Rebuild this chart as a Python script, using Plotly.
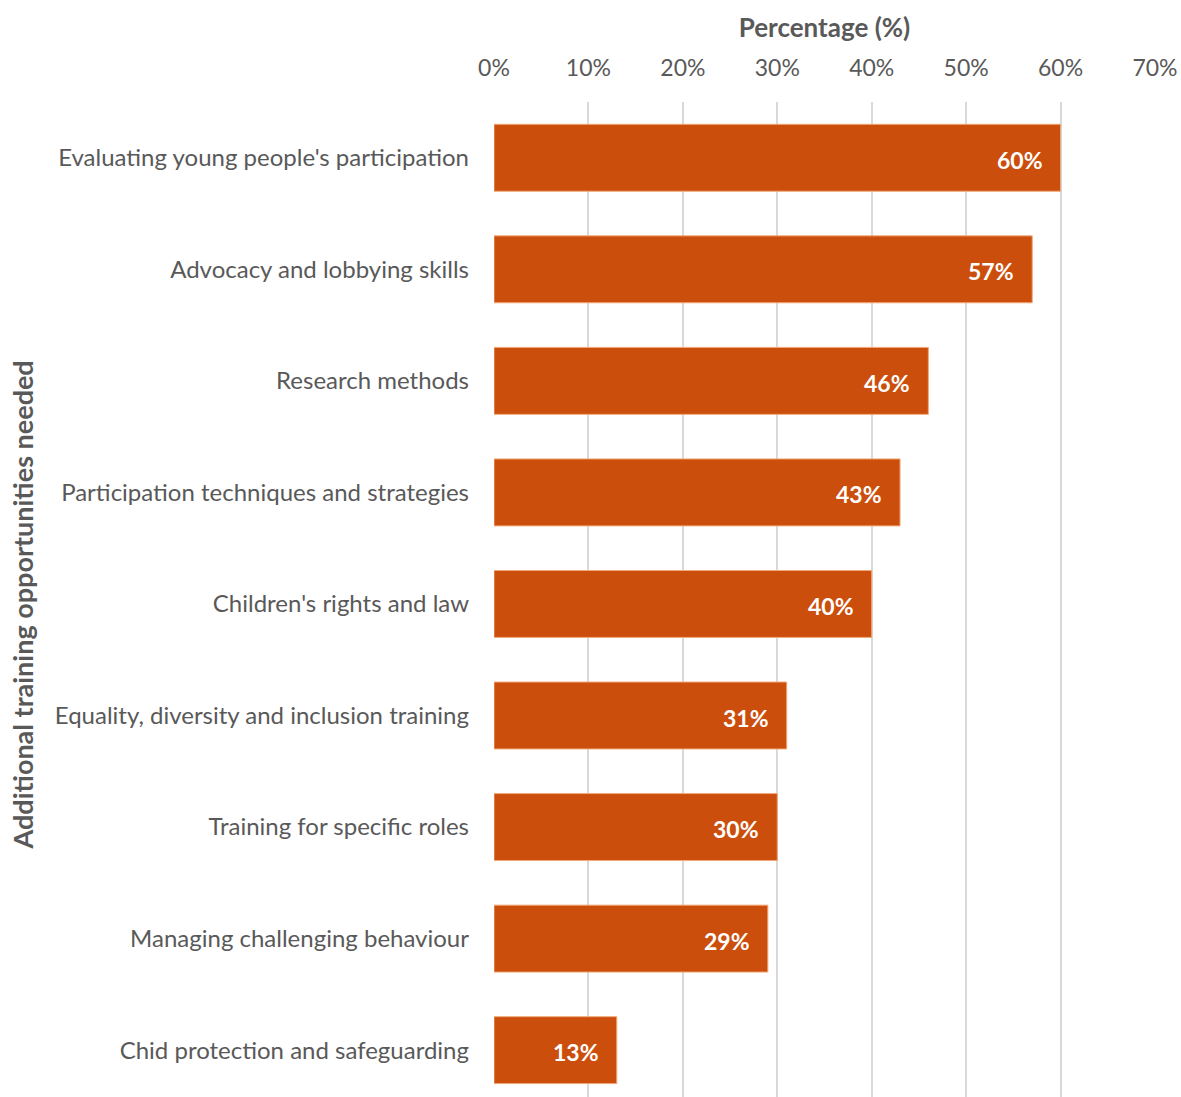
import plotly.graph_objects as go

# Survey results: additional training opportunities needed
categories = [
    "Evaluating young people's participation",
    "Advocacy and lobbying skills",
    "Research methods",
    "Participation techniques and strategies",
    "Children's rights and law",
    "Equality, diversity and inclusion training",
    "Training for specific roles",
    "Managing challenging behaviour",
    "Chid protection and safeguarding",
]
percentages = [0.60, 0.57, 0.46, 0.43, 0.40, 0.31, 0.30, 0.29, 0.13]
tick_values = [0, 0.1, 0.2, 0.3, 0.4, 0.5, 0.6, 0.7]
tick_labels = ["0%", "10%", "20%", "30%", "40%", "50%", "60%", "70%"]

BAR = "#CC4E0C"
GREY = "#595959"
FONT = "Lato, Calibri, Carlito, sans-serif"

fig = go.Figure(
    go.Bar(
        x=percentages,
        y=categories,
        orientation="h",
        marker=dict(color=BAR, line=dict(color="#F2A878", width=1)),
        hoverinfo="skip",
    )
)

# value labels inside the end of each bar
for cat, val in zip(categories, percentages):
    fig.add_annotation(
        x=val, y=cat, xref="x", yref="y",
        text=f"<b>{val:.0%}</b>",
        showarrow=False, xanchor="right", yanchor="middle",
        xshift=-16, yshift=-2,
        font=dict(family=FONT, size=23, color="white"),
    )

# rotated category-axis title
fig.add_annotation(
    x=0.0, y=0.494, xref="paper", yref="paper",
    xanchor="center", yanchor="middle",
    text="<b>Additional training opportunities needed</b>",
    textangle=-90, showarrow=False,
    xshift=-472,
    font=dict(family=FONT, size=27, color=GREY),
)

fig.update_layout(
    width=1181, height=1097,
    margin=dict(l=494, r=26, t=102, b=0),
    plot_bgcolor="white", paper_bgcolor="white",
    bargap=0.4,
    showlegend=False,
    font=dict(family=FONT, color=GREY),
    xaxis=dict(
        side="top",
        range=[0, 0.7],
        tickvals=tick_values,
        ticktext=tick_labels,
        tickfont=dict(size=23, color=GREY),
        showgrid=True, gridcolor="#D9D9D9", gridwidth=2,
        zeroline=False, showline=False, ticks="",
        ticklabelstandoff=20,
        title=dict(text="<b>Percentage (%)</b>", font=dict(size=26, color=GREY), standoff=8),
    ),
    yaxis=dict(
        categoryorder="array", categoryarray=categories,
        range=[8.42, -0.5],
        tickfont=dict(size=24, color=GREY),
        showgrid=False, zeroline=False, showline=False, ticks="",
        ticklabelstandoff=24,
    ),
)

fig.write_html("out.html")
